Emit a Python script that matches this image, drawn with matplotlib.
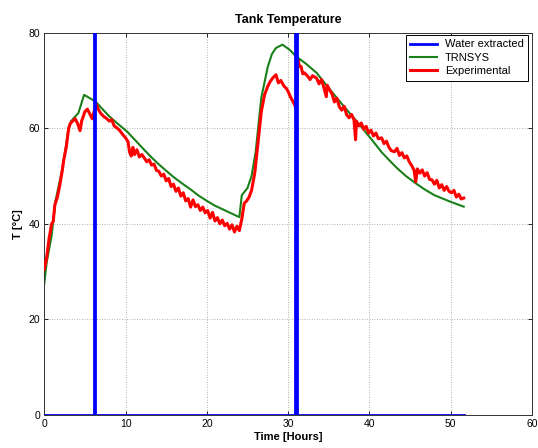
import matplotlib

matplotlib.use("Agg")

import matplotlib.pyplot as plt


OUT_PATH = "out.png"

# Water extraction events (flow drawn off-scale as two vertical bars)
WATER_TIME = [0.0, 6.15, 6.15, 6.3, 6.3, 30.9, 30.9, 31.05, 31.05, 51.6]
WATER_FLOW = [0, 0, 95, 95, 0, 0, 95, 95, 0, 0]

# TRNSYS simulated tank temperature
TRNSYS_TIME = [
    0.0, 0.3, 0.9, 1.4, 2.2, 3.0, 3.3, 4.2, 4.9, 6.3, 7.0, 8.0, 9.0, 10.2,
    11.3, 12.4, 13.2, 14.0, 15.0, 15.9, 17.0, 18.0, 19.0, 20.1, 21.0, 22.0,
    23.0, 24.0, 24.3, 25.0, 25.5, 26.0, 26.7, 27.5, 28.0, 28.5, 29.3, 30.2,
    31.0, 32.2, 33.5, 35.0, 36.5, 37.8, 39.0, 40.2, 41.5, 42.5, 43.5, 44.5,
    45.6, 46.8, 48.0, 49.0, 50.0, 51.6,
]
TRNSYS_TEMP = [
    27.5, 32.0, 37.5, 45.0, 51.3, 60.0, 61.5, 63.2, 67.0, 65.6, 64.3, 62.5,
    61.0, 59.3, 57.3, 55.3, 53.9, 52.6, 51.1, 49.8, 48.4, 47.2, 45.9, 44.7,
    43.8, 43.0, 42.2, 41.4, 46.0, 47.5, 50.0, 55.0, 66.4, 72.9, 75.5, 76.8,
    77.5, 76.4, 75.0, 73.5, 71.6, 68.4, 65.3, 62.7, 60.3, 57.8, 55.0, 53.2,
    51.5, 50.0, 48.6, 47.2, 46.0, 45.3, 44.6, 43.6,
]

# Measured tank temperature
EXP_TIME = [
    0.0, 0.3, 0.6, 0.9, 1.1, 1.3, 1.6, 1.9, 2.2, 2.4, 2.7, 3.0, 3.2, 3.5,
    3.8, 4.1, 4.4, 4.6, 5.0, 5.3, 5.6, 5.9, 6.2, 6.4, 6.7, 7.0, 7.3, 7.7,
    8.0, 8.3, 8.6, 9.0, 9.3, 9.6, 10.0, 10.3, 10.5, 10.7, 10.9, 11.1, 11.4,
    11.7, 12.0, 12.3, 12.6, 12.9, 13.2, 13.5, 13.8, 14.1, 14.4, 14.7, 15.0,
    15.3, 15.6, 15.9, 16.2, 16.5, 16.8, 17.1, 17.4, 17.7, 18.0, 18.3, 18.6,
    18.9, 19.2, 19.5, 19.8, 20.1, 20.4, 20.7, 21.0, 21.3, 21.6, 21.9, 22.2,
    22.5, 22.8, 23.1, 23.4, 23.7, 24.0, 24.3, 24.6, 24.9, 25.2, 25.5, 25.9,
    26.3, 26.7, 27.1, 27.5, 27.8, 28.1, 28.5, 28.8, 29.1, 29.5, 29.8, 30.0,
    30.3, 30.6, 30.9, 31.0, 31.2, 31.4, 31.6, 31.8, 32.0, 32.4, 32.7, 33.0,
    33.5, 33.8, 34.1, 34.4, 34.7, 34.8, 35.1, 35.4, 35.7, 36.0, 36.3, 36.6,
    36.9, 37.2, 37.5, 37.8, 38.1, 38.3, 38.4, 38.7, 39.0, 39.3, 39.6, 39.9,
    40.2, 40.5, 40.8, 41.1, 41.5, 41.8, 42.1, 42.4, 42.7, 43.1, 43.4, 43.7,
    44.0, 44.3, 44.6, 44.9, 45.2, 45.5, 45.7, 45.9, 46.2, 46.5, 46.8, 47.1,
    47.4, 47.7, 48.0, 48.3, 48.6, 48.9, 49.2, 49.5, 49.8, 50.1, 50.4, 50.7,
    51.0, 51.3, 51.6,
]
EXP_TEMP = [
    30.5, 33.0, 37.0, 40.0, 40.5, 44.0, 45.5, 48.0, 51.0, 53.4, 56.0, 60.0,
    61.0, 61.5, 62.0, 61.0, 59.5, 61.5, 63.5, 64.0, 63.0, 62.0, 64.0, 65.0,
    63.8, 63.0, 62.5, 62.0, 61.5, 61.8, 60.5, 60.0, 59.5, 58.8, 58.0, 57.2,
    55.0, 54.2, 56.0, 54.5, 55.5, 54.0, 54.5, 53.8, 53.0, 53.4, 52.3, 52.5,
    51.2, 51.0, 50.0, 50.4, 49.0, 49.5, 47.8, 48.3, 46.8, 47.5, 45.8, 46.5,
    44.8, 45.3, 43.5, 45.0, 43.6, 44.0, 42.8, 43.5, 42.3, 42.8, 41.2, 42.4,
    40.6, 41.3, 40.0, 40.8, 39.6, 40.1, 38.9, 39.8, 38.3, 39.5, 38.6, 41.0,
    44.3, 44.8, 45.6, 47.0, 50.7, 57.0, 63.5, 67.0, 68.8, 69.8, 70.5, 71.2,
    69.5, 70.0, 68.8, 68.3, 67.7, 66.5, 65.6, 64.5, 63.9, 74.3, 73.0, 72.9,
    71.4, 71.6, 70.9, 70.2, 71.0, 70.5, 69.3, 70.2, 68.5, 66.6, 69.0, 68.0,
    67.2, 65.5, 66.3, 64.5, 63.8, 64.6, 62.8, 62.2, 62.9, 61.8, 57.6, 61.5,
    60.5, 61.1, 59.8, 60.4, 59.0, 59.6, 58.4, 59.0, 57.8, 58.0, 56.8, 57.3,
    56.0, 55.3, 55.1, 55.8, 54.3, 54.9, 53.8, 54.2, 53.0, 52.2, 51.2, 48.8,
    51.5, 50.6, 51.3, 50.0, 50.7, 49.3, 49.2, 48.3, 49.1, 47.5, 48.2, 47.0,
    47.8, 46.8, 46.5, 47.0, 45.6, 46.2, 45.2, 45.4,
]

X_TICKS = [0, 10, 20, 30, 40, 50, 60]
Y_TICKS = [0, 20, 40, 60, 80]

plt.rcParams["font.family"] = ["Liberation Sans", "DejaVu Sans"]


def main() -> None:
    fig = plt.figure(figsize=(5.38, 4.48), dpi=100)
    ax = fig.add_axes([0.0823, 0.0737, 0.9065, 0.8533])

    ax.plot(WATER_TIME, WATER_FLOW, color="#0000ff", linewidth=2.0,
            label="Water extracted", zorder=4, solid_joinstyle="miter")
    ax.plot(TRNSYS_TIME, TRNSYS_TEMP, color="#1a801a", linewidth=1.5,
            label="TRNSYS", zorder=2)
    ax.plot(EXP_TIME, EXP_TEMP, color="#ff0000", linewidth=2.2,
            label="Experimental", zorder=3)

    ax.set_xlim(0, 60)
    ax.set_ylim(0, 80)
    ax.set_xticks(X_TICKS)
    ax.set_yticks(Y_TICKS)
    ax.tick_params(direction="in", length=3, width=0.6, labelsize=7.5,
                   top=True, right=True, pad=3)
    ax.grid(True, linestyle=(0, (1, 2)), color="#999999", linewidth=0.6)
    for spine in ax.spines.values():
        spine.set_linewidth(0.7)
        spine.set_color("#333333")

    ax.set_title("Tank Temperature", fontsize=9, fontweight="bold", pad=7)
    ax.set_xlabel("Time [Hours]", fontsize=8, fontweight="bold", labelpad=2)
    ax.set_ylabel("T [°C]", fontsize=8, fontweight="bold", labelpad=4)

    legend = ax.legend(loc="upper right", bbox_to_anchor=(0.992, 0.994),
                       borderaxespad=0, fontsize=8, fancybox=False,
                       framealpha=1, edgecolor="black", handlelength=2.4,
                       handletextpad=0.7, labelspacing=0.3, borderpad=0.4)
    legend.get_frame().set_linewidth(0.7)

    fig.savefig(OUT_PATH, dpi=100)
    plt.close(fig)


if __name__ == "__main__":
    main()
